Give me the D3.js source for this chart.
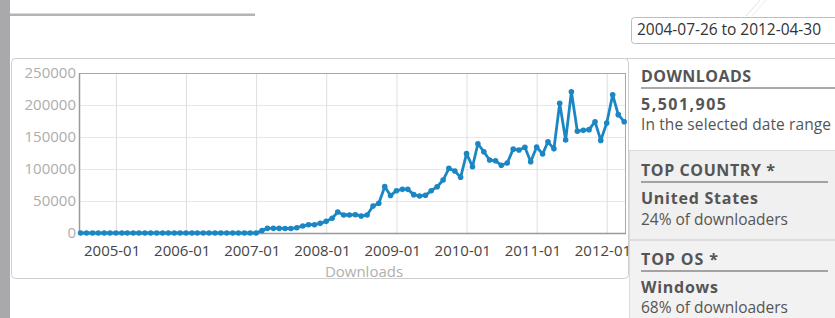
<!DOCTYPE html>
<html>

<head>
    <meta charset="UTF-8">
    <title>Downloads</title>
    <script src="https://d3js.org/d3.v7.min.js"></script>
    <style>
        body {
            margin: 0;
            background: #fff;
            font-family: "Open Sans", "DejaVu Sans", sans-serif;
        }
    </style>
</head>

<body>
    <div id="chart"></div>
    <script>
        // monthly download counts, first of each month
        const months = [
            "2004-07", "2004-08", "2004-09", "2004-10", "2004-11", "2004-12",
            "2005-01", "2005-02", "2005-03", "2005-04", "2005-05", "2005-06", "2005-07", "2005-08", "2005-09", "2005-10", "2005-11", "2005-12",
            "2006-01", "2006-02", "2006-03", "2006-04", "2006-05", "2006-06", "2006-07", "2006-08", "2006-09", "2006-10", "2006-11", "2006-12",
            "2007-01", "2007-02", "2007-03", "2007-04", "2007-05", "2007-06", "2007-07", "2007-08", "2007-09", "2007-10", "2007-11", "2007-12",
            "2008-01", "2008-02", "2008-03", "2008-04", "2008-05", "2008-06", "2008-07", "2008-08", "2008-09", "2008-10", "2008-11", "2008-12",
            "2009-01", "2009-02", "2009-03", "2009-04", "2009-05", "2009-06", "2009-07", "2009-08", "2009-09", "2009-10", "2009-11", "2009-12",
            "2010-01", "2010-02", "2010-03", "2010-04", "2010-05", "2010-06", "2010-07", "2010-08", "2010-09", "2010-10", "2010-11", "2010-12",
            "2011-01", "2011-02", "2011-03", "2011-04", "2011-05", "2011-06", "2011-07", "2011-08", "2011-09", "2011-10", "2011-11", "2011-12",
            "2012-01", "2012-02", "2012-03", "2012-04"
        ];
        const downloads = [
            0, 0, 0, 0, 0, 0,
            0, 0, 0, 0, 0, 0, 0, 0, 0, 0, 0, 0,
            0, 0, 0, 0, 0, 0, 0, 0, 0, 0, 0, 0,
            0, 4000, 7300, 7300, 7300, 7000, 7000, 8300, 10900, 13000, 13000, 15100,
            18200, 22900, 32800, 28100, 28100, 28600, 26600, 28100, 42200, 46400, 72400, 58500,
            66100, 68200, 68200, 59900, 57800, 58900, 66100, 72300, 82800, 101000, 96900, 87000,
            124000, 103600, 139500, 127000, 114000, 112800, 105900, 109400, 131000, 129700, 133900, 111400,
            134400, 123400, 142500, 131500, 202600, 145300, 220800, 159100, 160400, 161500, 173900, 144700,
            171900, 216000, 184900, 173900
        ];
        const yTicks = [0, 50000, 100000, 150000, 200000, 250000];
        const xTicks = ["2005-01", "2006-01", "2007-01", "2008-01", "2009-01", "2010-01", "2011-01", "2012-01"];

        const dateRange = "2004-07-26 to 2012-04-30";
        const totalDownloads = "5,501,905";
        const topCountry = "United States";
        const topCountryShare = "24% of downloaders";
        const topOs = "Windows";
        const topOsShare = "68% of downloaders";

        const parseMonth = d3.timeParse("%Y-%m");
        const data = months.map((m, i) => ({ time: parseMonth(m), value: downloads[i] }));

        const width = 835;
        const height = 318;
        const plotLeft = 79, plotRight = 625, plotTop = 73, plotBottom = 233;
        const blue = "#1a87c4";

        const svg = d3.select("#chart")
            .append("svg")
            .attr("width", width)
            .attr("height", height)
            .style("display", "block");

        // page chrome
        svg.append("rect").attr("x", 0).attr("y", 0).attr("width", 10).attr("height", height).attr("fill", "#a9a9ab");
        svg.append("rect").attr("x", 10).attr("y", 13.5).attr("width", 245).attr("height", 2.5).attr("fill", "#b4b4b4");
        svg.append("line").attr("x1", 746).attr("y1", 16).attr("x2", 760).attr("y2", 0).attr("stroke", "#e2e2e2");
        svg.append("line").attr("x1", 752).attr("y1", 16).attr("x2", 766).attr("y2", 0).attr("stroke", "#ececec");

        // date range box
        svg.append("rect")
            .attr("x", 631.5).attr("y", 17.5)
            .attr("width", 220).attr("height", 26)
            .attr("rx", 3)
            .attr("fill", "#fff")
            .attr("stroke", "#bdbdbd");
        svg.append("text")
            .attr("x", 637).attr("y", 35)
            .attr("font-size", 15.5)
            .attr("fill", "#333")
            .attr("textLength", 184)
            .attr("lengthAdjust", "spacing")
            .text(dateRange);

        // chart panel
        svg.append("line").attr("x1", 14).attr("x2", width).attr("y1", 58.5).attr("y2", 58.5).attr("stroke", "#d0d0d0");
        svg.append("rect")
            .attr("x", 11.5).attr("y", 58.5)
            .attr("width", 617).attr("height", 220)
            .attr("rx", 4)
            .attr("fill", "#fff")
            .attr("stroke", "#cfcfcf");

        const xScale = d3.scaleTime()
            .domain(d3.extent(data, d => d.time))
            .range([80.6, 624.2]);

        const yScale = d3.scaleLinear()
            .domain([0, 250000])
            .range([plotBottom, plotTop]);

        // grid
        svg.append("g")
            .attr("transform", `translate(${plotLeft}, 0)`)
            .call(d3.axisLeft(yScale).tickValues(yTicks).tickSize(-(plotRight - plotLeft)).tickFormat(""))
            .call(g => g.select(".domain").remove())
            .call(g => g.selectAll("line").attr("stroke", "#e8e8e8"));

        svg.append("g")
            .attr("transform", `translate(0, ${plotBottom})`)
            .call(d3.axisBottom(xScale).tickValues(xTicks.map(parseMonth)).tickSize(-(plotBottom - plotTop)).tickFormat(""))
            .call(g => g.select(".domain").remove())
            .call(g => g.selectAll("line").attr("stroke", "#dedede"));

        // frame
        svg.append("rect")
            .attr("x", plotLeft + 0.5).attr("y", plotTop + 0.5)
            .attr("width", plotRight - plotLeft).attr("height", plotBottom - plotTop)
            .attr("fill", "none")
            .attr("stroke", "#a8a8a8");
        svg.append("line").attr("x1", plotLeft + 0.5).attr("x2", plotLeft + 0.5).attr("y1", plotTop).attr("y2", plotBottom + 1).attr("stroke", "#999").attr("stroke-width", 1.5);
        svg.append("line").attr("x1", plotLeft).attr("x2", plotRight + 1).attr("y1", plotBottom + 0.5).attr("y2", plotBottom + 0.5).attr("stroke", "#999").attr("stroke-width", 1.5);

        // axis labels
        svg.append("g")
            .attr("transform", `translate(${plotLeft}, 0)`)
            .call(d3.axisLeft(yScale).tickValues(yTicks).tickSize(0).tickPadding(3).tickFormat(d3.format("d")))
            .call(g => g.select(".domain").remove())
            .call(g => g.selectAll("text")
                .attr("font-family", "Open Sans")
                .attr("font-size", 15)
                .attr("fill", "#adadad"));

        // labels sit a little left of their gridlines in the original
        svg.append("g")
            .attr("transform", `translate(-4.3, ${plotBottom})`)
            .call(d3.axisBottom(xScale).tickValues(xTicks.map(parseMonth)).tickSize(0).tickPadding(0).tickFormat(d3.timeFormat("%Y-%m")))
            .call(g => g.select(".domain").remove())
            .call(g => g.selectAll("text")
                .attr("y", 23)
                .attr("dy", null)
                .attr("font-family", "Open Sans")
                .attr("font-size", 15)
                .attr("fill", "#444"));

        svg.append("text")
            .attr("x", 364).attr("y", 276.5)
            .attr("text-anchor", "middle")
            .attr("font-size", 15)
            .attr("fill", "#b0b0b0")
            .text("Downloads");

        // series
        const line = d3.line()
            .x(d => xScale(d.time))
            .y(d => yScale(d.value));

        svg.append("path")
            .datum(data)
            .attr("fill", "none")
            .attr("stroke", blue)
            .attr("stroke-width", 2.8)
            .attr("stroke-linejoin", "round")
            .attr("d", line);

        svg.append("g")
            .selectAll("circle")
            .data(data)
            .join("circle")
            .attr("cx", d => xScale(d.time))
            .attr("cy", d => yScale(d.value))
            .attr("r", 2.8)
            .attr("fill", blue);

        // sidebar
        svg.append("rect")
            .attr("x", 629.5).attr("y", 150.5)
            .attr("width", 210).attr("height", 89)
            .attr("fill", "#f0f0f0").attr("stroke", "#dcdcdc");
        svg.append("rect")
            .attr("x", 629.5).attr("y", 240.5)
            .attr("width", 210).attr("height", 90)
            .attr("fill", "#f2f2f2").attr("stroke", "#dcdcdc");

        const side = svg.append("g").attr("fill", "#555");

        function heading(y, label, len, lineEnd) {
            side.append("text")
                .attr("x", 641).attr("y", y)
                .attr("font-size", 16).attr("font-weight", "bold")
                .attr("textLength", len).attr("lengthAdjust", "spacing")
                .text(label);
            side.append("line")
                .attr("x1", 641).attr("x2", lineEnd)
                .attr("y1", y + 6.5).attr("y2", y + 6.5)
                .attr("stroke", "#555");
        }
        function bold(y, label, len) {
            side.append("text")
                .attr("x", 641).attr("y", y)
                .attr("font-size", 16).attr("font-weight", "bold")
                .attr("textLength", len).attr("lengthAdjust", "spacing")
                .text(label);
        }
        function plain(y, label, len) {
            side.append("text")
                .attr("x", 641).attr("y", y)
                .attr("font-size", 15.5)
                .attr("textLength", len).attr("lengthAdjust", "spacing")
                .text(label);
        }

        heading(81.5, "DOWNLOADS", 110, 835);
        bold(109.5, totalDownloads, 85);
        plain(130, "In the selected date range", 190);

        heading(175.5, "TOP COUNTRY *", 134, 828);
        bold(203.5, topCountry, 117);
        plain(224.5, topCountryShare, 147);

        heading(264.5, "TOP OS *", 77, 828);
        bold(292.5, topOs, 77);
        plain(313, topOsShare, 147);
    </script>
</body>

</html>
